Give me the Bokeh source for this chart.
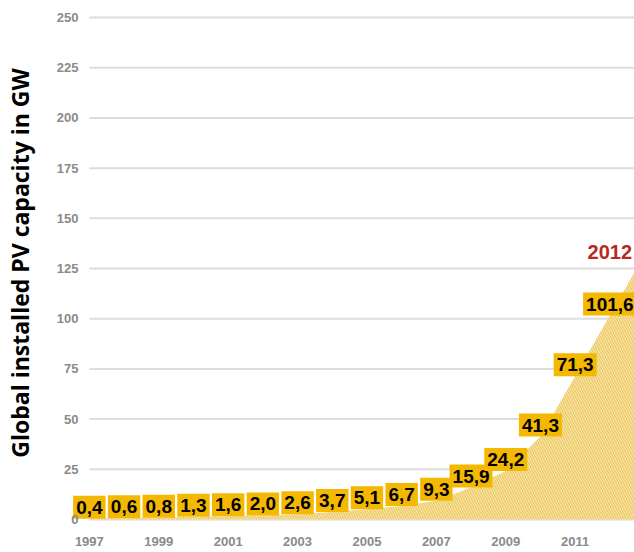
import math
from bokeh.plotting import figure
from bokeh.models import Range1d, FixedTicker
from bokeh.core.properties import value
from bokeh.embed import file_html
from bokeh.resources import INLINE

# ---- data ----
years = [1997, 1998, 1999, 2000, 2001, 2002, 2003, 2004,
         2005, 2006, 2007, 2008, 2009, 2010, 2011, 2012]
capacity = [0.4, 0.6, 0.8, 1.3, 1.6, 2.0, 2.6, 3.7,
            5.1, 6.7, 9.3, 15.9, 24.2, 41.3, 71.3, 101.6]
value_labels = ["0,4", "0,6", "0,8", "1,3", "1,6", "2,0", "2,6", "3,7",
                "5,1", "6,7", "9,3", "15,9", "24,2", "41,3", "71,3", "101,6"]
y_ticks = [0, 25, 50, 75, 100, 125, 150, 175, 200, 225, 250]
x_ticks = [1997, 1999, 2001, 2003, 2005, 2007, 2009, 2011]
highlight_label = "2012"
y_title = "Global installed PV capacity in GW"

# ---- layout ----
X0, X1 = 1996.37, 2012.71
Y0, Y1 = -3.0, 258.5
NUMFONT = "Liberation Sans"

p = figure(width=634, height=552,
           x_range=Range1d(X0, X1), y_range=Range1d(Y0, Y1),
           output_backend="svg", toolbar_location=None,
           min_border_left=62, min_border_right=0,
           min_border_top=0, min_border_bottom=27)
p.outline_line_color = None
p.background_fill_color = "white"
p.border_fill_color = "white"
p.xgrid.visible = False
p.ygrid.visible = False

# horizontal grid lines starting at the first year
n = len(y_ticks)
p.segment(x0=[years[0]] * n, y0=y_ticks, x1=[X1] * n, y1=y_ticks,
          line_color="#DCDCDC", line_width=2)

# hatched area under the series, continued past the last year to the frame edge
ext = capacity[-1] + (capacity[-1] - capacity[-2]) * (X1 - years[-1])
p.varea(x=years + [X1], y1=[0] * (len(years) + 1), y2=capacity + [ext],
        fill_color="#FBF0CC", hatch_pattern="\\", hatch_color="#EDCB66",
        hatch_scale=5, hatch_weight=1.6)

# value boxes
p.text(x=years, y=capacity, text=value_labels, anchor="bottom_center",
       text_align="center", text_baseline="middle",
       text_font=value(NUMFONT), text_font_style="bold", text_font_size="19px",
       text_color="black", background_fill_color="#F5B800",
       padding=dict(left=3, right=3, top=5, bottom=5))

# highlighted last year
p.text(x=[years[-1]], y=[capacity[-1]], text=[highlight_label],
       text_align="center", text_baseline="alphabetic", y_offset=-64,
       text_font=value(NUMFONT), text_font_style="bold", text_font_size="20px",
       text_color="#B8281E")

# axes
for ax in (p.xaxis[0], p.yaxis[0]):
    ax.axis_line_color = None
    ax.major_tick_line_color = None
    ax.minor_tick_line_color = None
    ax.major_label_text_font = NUMFONT
    ax.major_label_text_font_style = "bold"
    ax.major_label_text_font_size = "13px"
    ax.major_label_text_color = "#8A8A8A"
p.xaxis.ticker = FixedTicker(ticks=x_ticks)
p.xaxis.major_label_standoff = 5
p.yaxis.ticker = FixedTicker(ticks=y_ticks)
p.yaxis.major_label_standoff = -17

p.yaxis.axis_label = y_title
p.yaxis.axis_label_standoff = 18
p.yaxis.axis_label_text_font = "Open Sans"
p.yaxis.axis_label_text_font_style = "bold"
p.yaxis.axis_label_text_font_size = "23px"
p.yaxis.axis_label_text_color = "black"

open("out.html", "w").write(file_html(p, INLINE))
